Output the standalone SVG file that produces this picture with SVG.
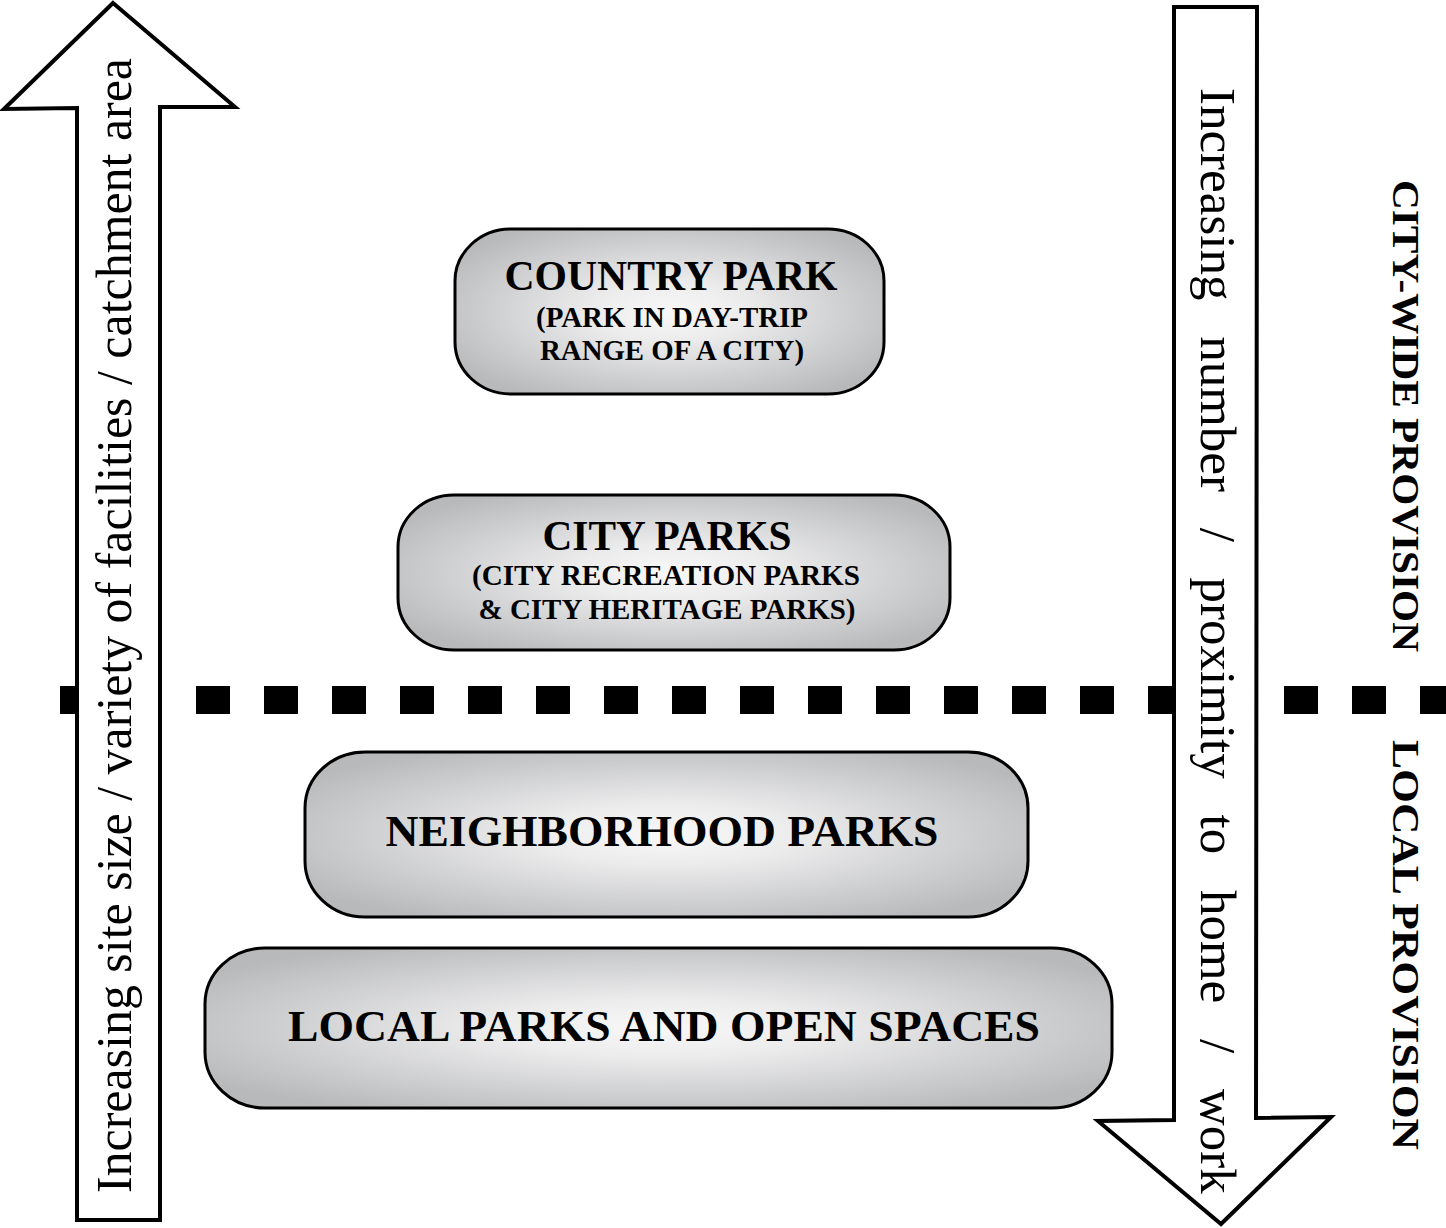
<svg xmlns="http://www.w3.org/2000/svg" width="1446" height="1228" viewBox="0 0 1446 1228">
  <defs>
    <radialGradient id="silver" cx="0.5" cy="0.5" r="0.6">
      <stop offset="0" stop-color="#f8f8f8"/>
      <stop offset="0.3" stop-color="#ececed"/>
      <stop offset="1" stop-color="#b8b9bb"/>
    </radialGradient>
  </defs>
  <style>
    .box { fill: url(#silver); stroke: #000; stroke-width: 3; }
    .arrow { fill: #fff; stroke: #000; stroke-width: 4; stroke-linejoin: miter; }
    .t { font-family: "Liberation Serif", "Times New Roman", serif; font-weight: bold; fill: #000; text-anchor: middle; }
    .big { font-size: 42px; }
    .big2 { font-size: 45px; }
    .small { font-size: 29px; }
    .axis { font-family: "Liberation Serif", "Times New Roman", serif; font-size: 50px; fill: #000; }
    .side { font-family: "Liberation Serif", "Times New Roman", serif; font-weight: bold; font-size: 38px; fill: #000; }
    .divider { stroke: #000; stroke-width: 28; stroke-dasharray: 34 34; fill: none; }
  </style>

  <g id="country-park">
    <rect class="box" x="455" y="229" width="429" height="165" rx="56" ry="52"/>
    <text class="t big" x="671" y="290" textLength="333" lengthAdjust="spacingAndGlyphs">COUNTRY PARK</text>
    <text class="t small" x="672" y="327" textLength="272" lengthAdjust="spacingAndGlyphs">(PARK IN DAY-TRIP</text>
    <text class="t small" x="672" y="360" textLength="264" lengthAdjust="spacingAndGlyphs">RANGE OF A CITY)</text>
  </g>

  <g id="city-parks">
    <rect class="box" x="398" y="495" width="552" height="155" rx="56" ry="52"/>
    <text class="t big" x="667" y="550" textLength="249" lengthAdjust="spacingAndGlyphs">CITY PARKS</text>
    <text class="t small" x="666" y="585" textLength="388" lengthAdjust="spacingAndGlyphs">(CITY RECREATION PARKS</text>
    <text class="t small" x="667" y="619" textLength="377" lengthAdjust="spacingAndGlyphs">&amp; CITY HERITAGE PARKS)</text>
  </g>

  <g id="neighborhood-parks">
    <rect class="box" x="305" y="752" width="723" height="165" rx="60" ry="56"/>
    <text class="t big2" x="662" y="846" textLength="553" lengthAdjust="spacingAndGlyphs">NEIGHBORHOOD PARKS</text>
  </g>

  <g id="local-parks">
    <rect class="box" x="205" y="948" width="907" height="160" rx="60" ry="56"/>
    <text class="t big2" x="664" y="1041" textLength="752" lengthAdjust="spacingAndGlyphs">LOCAL PARKS AND OPEN SPACES</text>
  </g>

  <g id="connectors">
    <line id="divider" class="divider" x1="60" y1="700" x2="1446" y2="700"/>
    <polygon id="arrow-up" class="arrow" points="113,3 235,107 160,107 160,1220 77,1220 77,108 4,109"/>
    <polygon id="arrow-down" class="arrow" points="1174,7 1257,7 1256,1118 1331,1117 1221,1224 1098,1121 1174,1120"/>
  </g>

  <g id="axis-labels">
    <text class="axis" transform="translate(131,1193) rotate(-90)" x="0" y="0" textLength="1135" lengthAdjust="spacingAndGlyphs">Increasing site size / variety of facilities / catchment area</text>
    <text class="axis" transform="translate(1201,88) rotate(90)" x="0" y="0" style="font-size:51px; word-spacing:23px">Increasing number / proximity to home / work</text>
  </g>

  <g id="provision-labels">
    <text class="side" transform="translate(1393,180) rotate(90)" x="0" y="0" textLength="472" lengthAdjust="spacingAndGlyphs">CITY-WIDE PROVISION</text>
    <text class="side" transform="translate(1393,740) rotate(90)" x="0" y="0" textLength="410" lengthAdjust="spacingAndGlyphs">LOCAL PROVISION</text>
  </g>
</svg>
